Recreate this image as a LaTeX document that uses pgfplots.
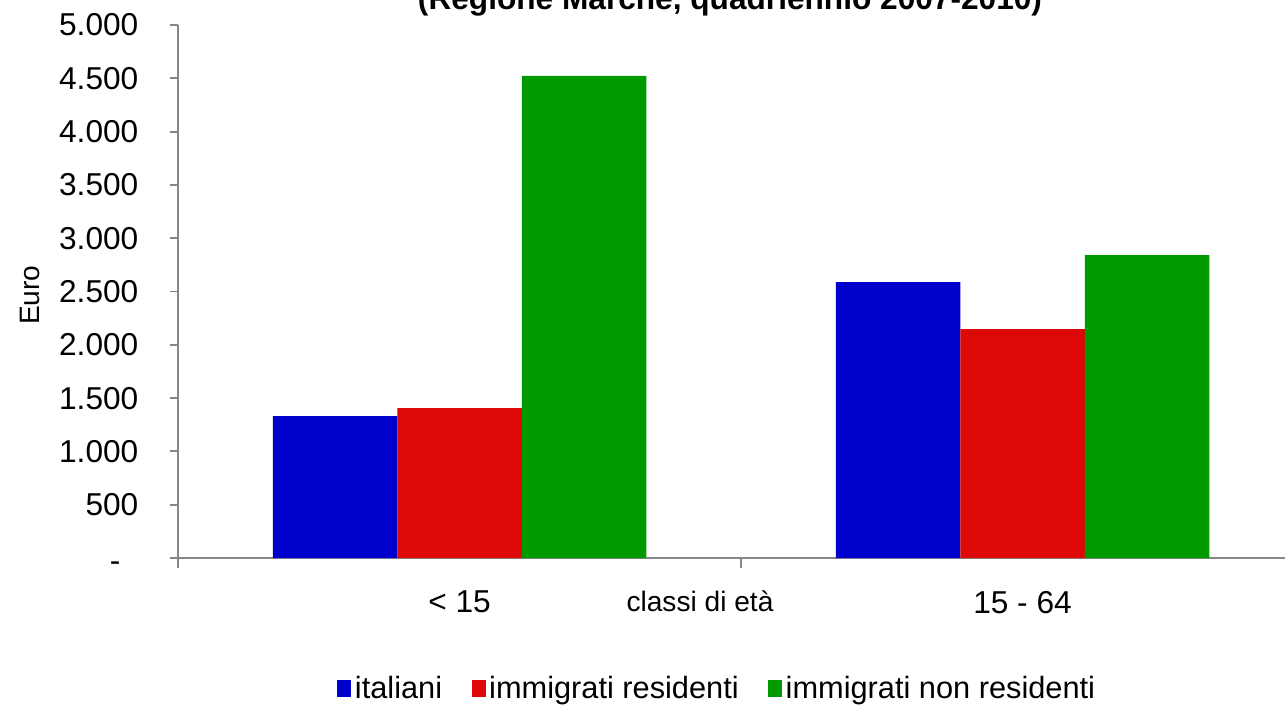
\documentclass[border=0pt]{standalone}
\usepackage{pgfplots}
\pgfplotsset{compat=1.18}
\usepackage{fontspec}
\setmainfont{Liberation Sans}
\definecolor{cIta}{RGB}{0,0,204}
\definecolor{cRes}{RGB}{221,8,8}
\definecolor{cNon}{RGB}{0,153,0}
\definecolor{axgray}{RGB}{134,134,134}
\begin{document}
\begin{tikzpicture}
\begin{axis}[
    at={(35.6mm,29.4mm)}, anchor=south west,
    scale only axis,
    width=225.2mm, height=106.6mm,
    xmin=-0.5, xmax=1.5,
    ymin=0, ymax=5000,
    axis x line*=bottom, axis y line*=left,
    axis line style={axgray, line width=1.1pt},
    tick style={axgray, line width=1.1pt},
    tick align=outside,
    major tick length=1.6mm,
    minor tick length=2mm,
    ytick={0,500,...,5000},
    yticklabels={{\raisebox{-2.7mm}[0pt][0pt]{-}\kern3.6mm},500,1.000,1.500,2.000,2.500,3.000,3.500,4.000,4.500,5.000},
    yticklabel style={font=\fontsize{18pt}{21pt}\selectfont, xshift=-5.1mm},
    xtick={0,1},
    xticklabels={{\textless\ 15},{15 - 64}},
    major x tick style={draw=none},
    minor xtick={-0.5,0.5,1.5},
    xticklabel style={font=\fontsize{18pt}{21pt}\selectfont, yshift=-3.8mm},
    xlabel={classi di età},
    xlabel style={font=\fontsize{16pt}{18pt}\selectfont, at={(axis description cs:0.4636,-0.0807)}, anchor=center},
    ylabel={Euro},
    ylabel style={font=\fontsize{16pt}{18pt}\selectfont, at={(axis description cs:-0.1314,0.493)}, anchor=center},
    ybar=0pt,
    bar width=24.9mm,
    legend columns=3,
    legend style={draw=none, fill=none, at={(axis description cs:0.4796,-0.2458)}, anchor=center,
        font=\fontsize{17.5pt}{20pt}\selectfont,
        /tikz/every even column/.append style={column sep=5.2mm},
        inner xsep=0pt},
    legend image code/.code={\fill[#1] (0mm,-1.6mm) rectangle (2.8mm,1.8mm);},
    legend cell align=left,
]
\addplot[draw=none, fill=cIta] coordinates {(0,1332) (1,2589)};
\addlegendentry{italiani}
\addplot[draw=none, fill=cRes] coordinates {(0,1407) (1,2148)};
\addlegendentry{immigrati residenti}
\addplot[draw=none, fill=cNon] coordinates {(0,4522) (1,2842)};
\addlegendentry{immigrati non residenti}
\end{axis}
\node[font=\bfseries\fontsize{18pt}{21pt}\selectfont, anchor=base] at (146mm,139mm) {(Regione Marche, quadriennio 2007-2010)};
\pgfresetboundingbox
\useasboundingbox (0,0) rectangle (257mm,141mm);
\end{tikzpicture}
\end{document}
